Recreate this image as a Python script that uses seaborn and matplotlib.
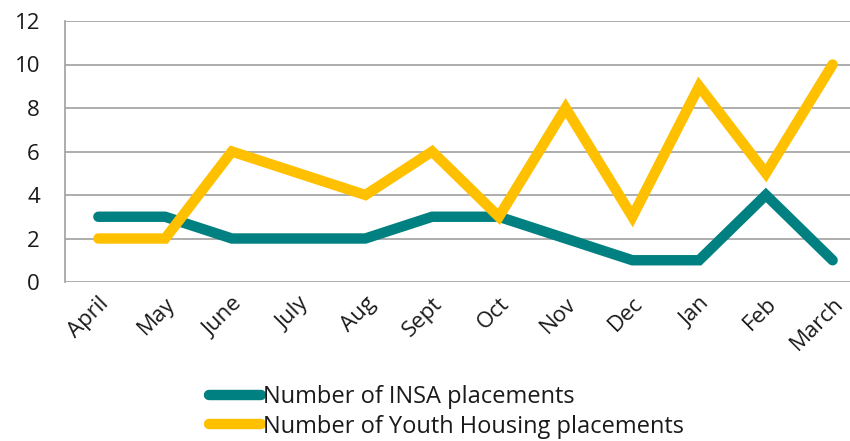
import matplotlib
matplotlib.use("Agg")
import matplotlib.pyplot as plt
import seaborn as sns
import pandas as pd
from matplotlib.lines import Line2D

months = ["April", "May", "June", "July", "Aug", "Sept", "Oct", "Nov", "Dec", "Jan", "Feb", "March"]
insa = [3, 3, 2, 2, 2, 3, 3, 2, 1, 1, 4, 1]
youth = [2, 2, 6, 5, 4, 6, 3, 8, 3, 9, 5, 10]
series_names = ["Number of INSA placements", "Number of Youth Housing placements"]
colors = ["#008080", "#FFC000"]

sns.set_style("white")
plt.rcParams['font.family'] = ['Open Sans', 'DejaVu Sans']

df = pd.DataFrame({
    "month": months * 2,
    "value": insa + youth,
    "series": [series_names[0]] * len(months) + [series_names[1]] * len(months),
})
df["x"] = list(range(len(months))) * 2

fig = plt.figure(figsize=(8.5, 4.41), dpi=100)
ax = fig.add_axes([65/850, 1 - 282/441, (866 - 65)/850, (282 - 21)/441])

sns.lineplot(data=df, x="x", y="value", hue="series", palette=colors, ax=ax,
             linewidth=7.5, legend=False, sort=False)
for ln in ax.get_lines():
    ln.set_solid_capstyle("round")
    ln.set_solid_joinstyle("miter")

ax.set_xlim(-0.5, len(months) - 0.5)
ax.set_ylim(0, 12)
ax.set_yticks(range(0, 13, 2))
ax.set_xticks(range(len(months)))
ax.set_xticklabels(months, rotation=45, ha="right", rotation_mode="anchor")
ax.tick_params(axis="both", labelsize=16, length=0, colors="#1a1a1a")
ax.tick_params(axis="y", pad=18)
ax.tick_params(axis="x", pad=8)
ax.set_xlabel("")
ax.set_ylabel("")
ax.yaxis.grid(True, color="#a0a0a0", linewidth=1.2)
ax.set_axisbelow(True)
for s in ["top", "right", "bottom"]:
    ax.spines[s].set_visible(False)
ax.spines["left"].set_color("#a0a0a0")
ax.spines["left"].set_linewidth(1.2)

handles = [Line2D([0], [0], color=c, linewidth=7.5, solid_capstyle="round") for c in colors]
fig.legend(handles, series_names, loc="upper left", bbox_to_anchor=(197/850, 1 - 373/441),
           frameon=False, fontsize=17, handlelength=2.2, handletextpad=0.1,
           labelspacing=0.25, borderpad=0, labelcolor="#1a1a1a")

fig.savefig("out.png", dpi=100)
